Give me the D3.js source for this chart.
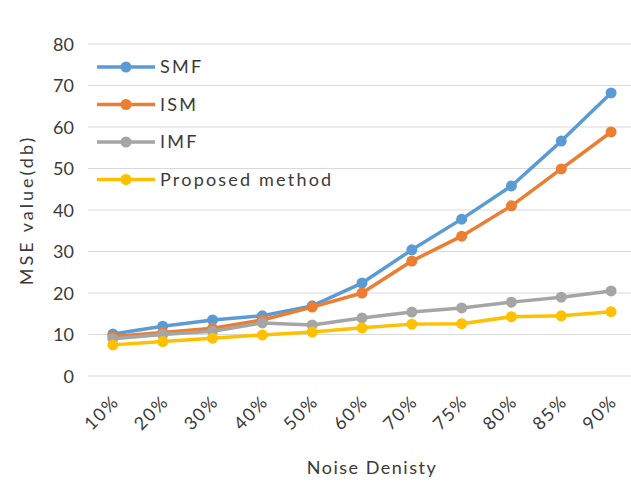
<!DOCTYPE html>
<html>
<head>
<meta charset="utf-8">
<script src="https://cdn.jsdelivr.net/npm/d3@7"></script>
<style>
  body { margin: 0; background: #fff; }
  text { font-family: Lato, "Open Sans", sans-serif; fill: #3a3a3a; }
</style>
</head>
<body>
<script>
const categories = ["10%", "20%", "30%", "40%", "50%", "60%", "70%", "75%", "80%", "85%", "90%"];
const smf = [10.1, 12, 13.5, 14.5, 16.9, 22.4, 30.4, 37.8, 45.8, 56.6, 68.2];
const ism = [9.5, 10.5, 11.5, 13.5, 16.6, 20, 27.7, 33.7, 41, 49.9, 58.8];
const imf = [9, 10, 10.8, 12.8, 12.3, 14, 15.4, 16.4, 17.8, 19, 20.5];
const proposed = [7.5, 8.3, 9.1, 9.9, 10.6, 11.6, 12.5, 12.6, 14.3, 14.5, 15.5];
const yTicks = [0, 10, 20, 30, 40, 50, 60, 70, 80];

const series = [
  { name: "SMF", values: smf, color: "#5B9BD5" },
  { name: "ISM", values: ism, color: "#ED7D31" },
  { name: "IMF", values: imf, color: "#A5A5A5" },
  { name: "Proposed method", values: proposed, color: "#FFC000" },
];

const W = 631, H = 482;
const svg = d3.select("body").append("svg").attr("width", W).attr("height", H);

const x = d3.scaleBand().domain(categories).range([88, 636]);
const y = d3.scaleLinear().domain([0, 80]).range([376, 44]);

// gridlines
svg.append("g")
  .selectAll("line")
  .data(yTicks)
  .enter()
  .append("line")
  .attr("x1", 88)
  .attr("x2", W)
  .attr("y1", (d) => y(d))
  .attr("y2", (d) => y(d))
  .attr("stroke", "#d9d9d9")
  .attr("stroke-width", 1);

// y axis
const yAxis = svg.append("g")
  .attr("transform", "translate(74,0)")
  .call(d3.axisLeft(y).tickValues(yTicks).tickSize(0).tickPadding(0));
yAxis.select(".domain").remove();
yAxis.selectAll("text").style("font-size", "18px").attr("dy", "0.35em");

// x axis
const xAxis = svg.append("g")
  .attr("transform", "translate(0,382)")
  .call(d3.axisBottom(x).tickSize(0).tickPadding(0));
xAxis.select(".domain").remove();
xAxis.selectAll("text")
  .style("font-size", "18px")
  .style("letter-spacing", "1.5px")
  .style("text-anchor", "end")
  .attr("dx", "0")
  .attr("dy", "0")
  .attr("transform", "translate(7,21) rotate(-45)");

// axis titles
svg.append("text")
  .attr("transform", "translate(33,210) rotate(-90)")
  .attr("text-anchor", "middle")
  .style("font-size", "18px")
  .style("letter-spacing", "3px")
  .text("MSE value(db)");

svg.append("text")
  .attr("x", 372)
  .attr("y", 474)
  .attr("text-anchor", "middle")
  .style("font-size", "18px")
  .style("letter-spacing", "1.5px")
  .text("Noise Denisty");

// lines
const line = d3.line()
  .x((d, i) => x(categories[i]) + x.bandwidth() / 2)
  .y((d) => y(d));

series.forEach((s) => {
  svg.append("path")
    .datum(s.values)
    .attr("d", line)
    .attr("fill", "none")
    .attr("stroke", s.color)
    .attr("stroke-width", 3.5)
    .attr("stroke-linejoin", "round");

  svg.append("g")
    .selectAll("circle")
    .data(s.values)
    .enter()
    .append("circle")
    .attr("cx", (d, i) => x(categories[i]) + x.bandwidth() / 2)
    .attr("cy", (d) => y(d))
    .attr("r", 5.5)
    .attr("fill", s.color);
});

// legend
const legend = svg.append("g")
  .selectAll("g")
  .data(series)
  .enter()
  .append("g")
  .attr("transform", (d, i) => "translate(97," + (67 + i * 37.5) + ")");

legend.append("line")
  .attr("x1", 0)
  .attr("x2", 58)
  .attr("stroke", (d) => d.color)
  .attr("stroke-width", 3.5);
legend.append("circle")
  .attr("cx", 29)
  .attr("r", 5.5)
  .attr("fill", (d) => d.color);
legend.append("text")
  .attr("x", 63)
  .attr("dy", "0.35em")
  .style("font-size", "18px")
  .style("letter-spacing", "2.2px")
  .text((d) => d.name);
</script>
</body>
</html>
